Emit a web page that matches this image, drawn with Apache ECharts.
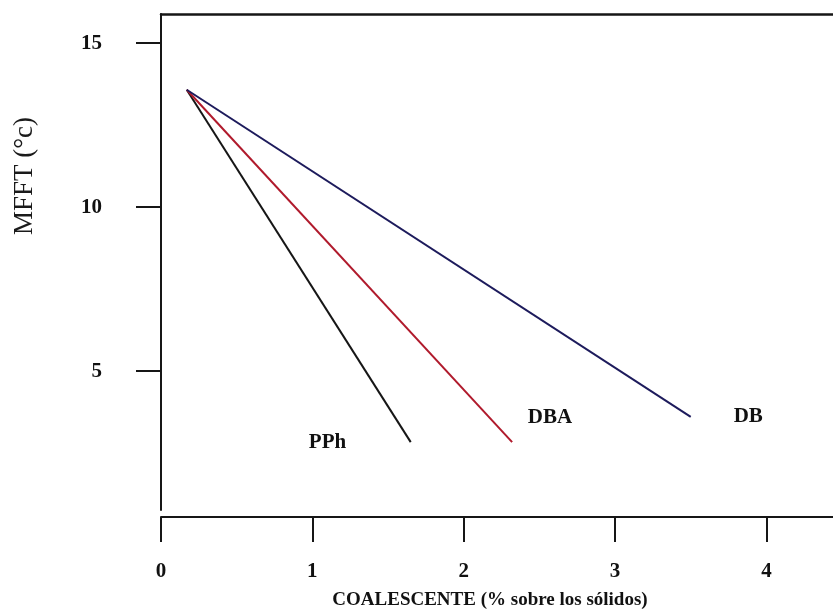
<!DOCTYPE html>
<html>
<head>
<meta charset="utf-8">
<script src="https://cdn.jsdelivr.net/npm/echarts@6/dist/echarts.min.js"></script>
<style>
html, body { margin: 0; padding: 0; background: #fff; }
#chart { width: 833px; height: 611px; }
</style>
</head>
<body>
<div id="chart"></div>
<script>
// datos: MFFT (°c) vs coalescente (% sobre los solidos)
var seriesNames = ['PPh', 'DBA', 'DB'];
var pphData = [[0.17, 13.58], [1.65, 2.84]];
var dbaData = [[0.17, 13.58], [2.32, 2.84]];
var dbData  = [[0.17, 13.58], [3.50, 3.61]];
var labelPos = [[1.10, 2.84], [2.57, 3.58], [3.88, 3.61]]; // donde va el nombre de cada recta
var xTicks = [0, 1, 2, 3, 4];
var yTicks = [5, 10, 15];
var xTitle = 'COALESCENTE (% sobre los sólidos)';
var yTitle = 'MFFT (°c)';

var serif = '"Liberation Serif", "Times New Roman", serif';
var colors = ['#161616', '#b01a2c', '#1d1b5c'];
var allData = [pphData, dbaData, dbData];

var series = [];
for (var i = 0; i < seriesNames.length; i++) {
	series.push({
		name: seriesNames[i],
		type: 'line',
		data: allData[i],
		showSymbol: false,
		silent: true,
		lineStyle: { color: colors[i], width: 2 },
		markPoint: {
			symbol: 'circle',
			symbolSize: 1,
			itemStyle: { color: 'transparent' },
			label: {
				show: true,
				position: 'inside',
				formatter: seriesNames[i],
				color: '#111',
				fontFamily: serif,
				fontWeight: 'bold',
				fontSize: 21
			},
			data: [{ coord: labelPos[i] }]
		}
	});
}

var axisLine = { show: true, lineStyle: { color: '#161616', width: 2 } };

var option = {
	animation: false,
	backgroundColor: '#fff',
	grid: { left: 161, right: 0, top: 14, bottom: 101, outerBoundsMode: 'none' },
	xAxis: [{
		type: 'value',
		min: 0,
		max: 4.44,
		offset: 7,
		axisLine: axisLine,
		axisTick: { show: true, length: 25, customValues: xTicks, lineStyle: { color: '#161616', width: 2 } },
		axisLabel: {
			customValues: xTicks,
			margin: 44,
			color: '#111',
			fontFamily: serif,
			fontWeight: 'bold',
			fontSize: 21
		},
		splitLine: { show: false },
		name: xTitle,
		nameLocation: 'middle',
		nameGap: 74,
		nameTextStyle: {
			color: '#111',
			fontFamily: serif,
			fontWeight: 'bold',
			fontSize: 19,
			padding: [0, 14, 0, 0]
		}
	}, {
		// borde superior del recuadro
		type: 'value',
		position: 'top',
		min: 0,
		max: 4.44,
		axisLine: { show: true, lineStyle: { color: '#161616', width: 2.5 } },
		axisTick: { show: false },
		axisLabel: { show: false },
		splitLine: { show: false }
	}],
	yAxis: {
		type: 'value',
		min: 0.77,
		max: 15.89,
		axisLine: axisLine,
		axisTick: { show: true, length: 25, customValues: yTicks, lineStyle: { color: '#161616', width: 2 } },
		axisLabel: {
			customValues: yTicks,
			margin: 59,
			color: '#111',
			fontFamily: serif,
			fontWeight: 'bold',
			fontSize: 21
		},
		splitLine: { show: false }
	},
	graphic: [{
		type: 'text',
		x: 25,
		y: 176,
		rotation: Math.PI / 2,
		style: {
			text: yTitle,
			fontFamily: serif,
			fontSize: 27,
			fill: '#1a1a1a',
			align: 'center',
			verticalAlign: 'middle'
		}
	}],
	series: series
};

var chart = echarts.init(document.getElementById('chart'));
chart.setOption(option);
</script>
</body>
</html>
